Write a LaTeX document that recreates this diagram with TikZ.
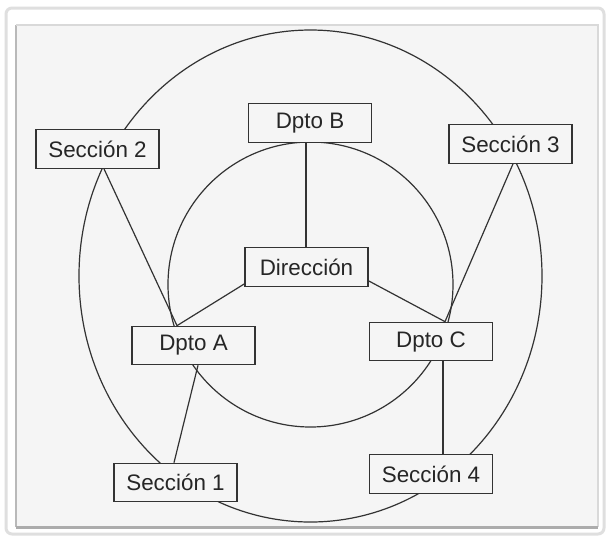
\documentclass[tikz,border=0pt]{standalone}
\usepackage{fontspec}
\setmainfont{Liberation Sans}
\definecolor{panel}{RGB}{245,245,245}
\begin{document}
\begin{tikzpicture}[x=0.5pt,y=-0.5pt,
	caja/.style={draw=black!80, rectangle, fill=panel, line width=0.6pt,
		minimum width=61.5pt, minimum height=19.25pt, inner sep=0pt,
		font=\fontsize{11.2}{13}\selectfont, text=black!85},
	linea/.style={draw=black!80, line width=0.6pt}]
	\useasboundingbox (0,0) rectangle (606,538);
	% marco
	\fill[white] (0,0) rectangle (606,538);
	\draw[gray!25, line width=1.5pt, rounded corners=3pt, fill=white] (6,8) rectangle (604,534);
	\fill[panel] (16,25) rectangle (598,527);
	\draw[gray!55, line width=1pt] (16,527) -- (16,25);
	\draw[gray!30, line width=0.8pt] (16,25) -- (598,25) -- (598,527);
	\draw[gray!65, line width=1.5pt] (16,527) -- (598,527);

	% circulos
	\draw[linea] (310.5,276) ellipse [x radius=231.5, y radius=246];
	\draw[linea] (310.5,284.5) circle [radius=142.5];

	\node [caja] (sec2) at (97.5,149) {Sección 2};
	\node [caja] (dptoB) at (310,123) {Dpto B};
	\node [caja] (sec3) at (510.5,144) {Sección 3};
	\node [caja] (dir) at (306.5,267) {Dirección};
	\node [caja] (dptoA) at (193.5,345.5) {Dpto A};
	\node [caja] (dptoC) at (431,341.5) {Dpto C};
	\node [caja] (sec1) at (175.5,482.5) {Sección 1};
	\node [caja] (sec4) at (431,474) {Sección 4};

	\draw [linea] ([xshift=-2pt]dptoB.south) -- ([xshift=-0.25pt]dir.north);
	\draw [linea] ([yshift=1.5pt]dir.south west) -- ([xshift=-8.25pt]dptoA.north);
	\draw [linea] ([yshift=3pt]dir.south east) -- ([xshift=7pt]dptoC.north);
	\draw [linea] ([xshift=3.25pt]sec2.south) -- ([xshift=-8.25pt]dptoA.north);
	\draw [linea] ([xshift=1.25pt]sec3.south) -- ([xshift=7pt]dptoC.north);
	\draw [linea] ([xshift=2.25pt]dptoA.south) -- ([xshift=-0.75pt]sec1.north);
	\draw [linea] ([xshift=6pt]dptoC.south) -- ([xshift=6pt]sec4.north);
\end{tikzpicture}
\end{document}
